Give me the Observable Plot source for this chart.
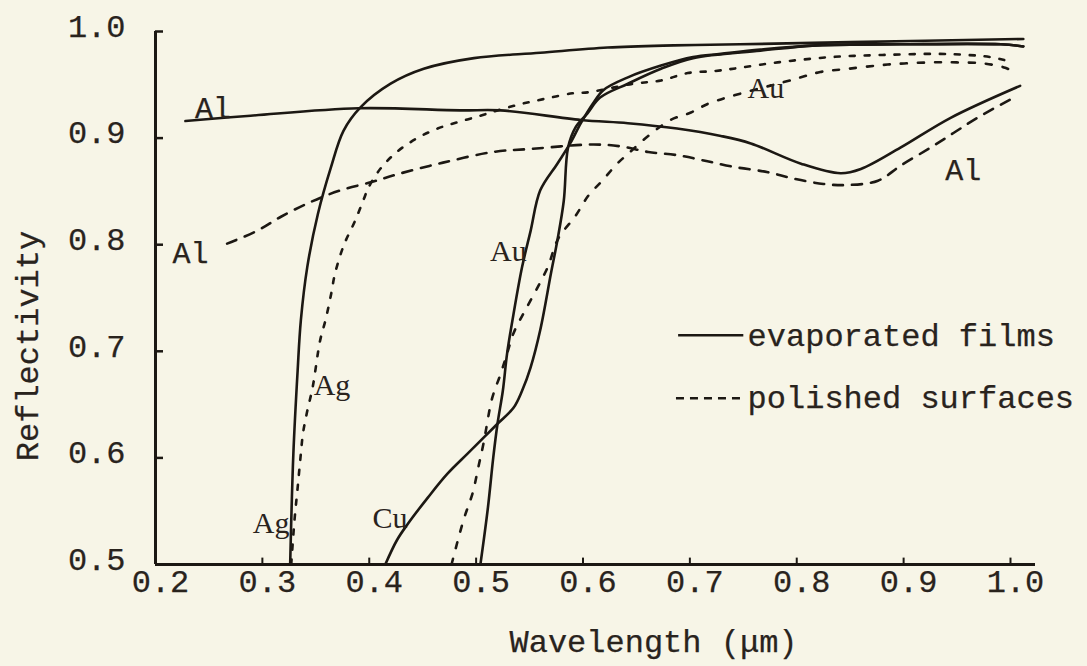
<!DOCTYPE html>
<html>
<head>
<meta charset="utf-8">
<script src="https://cdn.jsdelivr.net/npm/d3@7"></script>
<script src="https://cdn.jsdelivr.net/npm/@observablehq/plot@0.6"></script>
<style>
  html, body { margin: 0; padding: 0; background: #f7f5e7; }
  #chart svg { display: block; }
</style>
</head>
<body>
<div id="chart"></div>
<script>
// ---- tick values & labels ----
const xTicks = [0.2, 0.3, 0.4, 0.5, 0.6, 0.7, 0.8, 0.9, 1.0];
const xTickLabels = ["0.2", "0.3", "0.4", "0.5", "0.6", "0.7", "0.8", "0.9", "1.0"];
const yTicks = [0.5, 0.6, 0.7, 0.8, 0.9, 1.0];
const yTickLabels = ["0.5", "0.6", "0.7", "0.8", "0.9", "1.0"];

// ---- evaporated films (solid) : [wavelength µm, reflectivity] ----
const agFilm = [[0.326,0.5],[0.329,0.604],[0.333,0.682],[0.336,0.729],[0.342,0.779],[0.352,0.829],[0.364,0.872],[0.376,0.907],[0.392,0.929],[0.420,0.951],[0.451,0.965],[0.498,0.975],[0.560,0.980],[0.623,0.985],[0.685,0.987],[0.747,0.988],[0.850,0.990],[1.012,0.993]];
const auFilm = [[0.504,0.5],[0.511,0.553],[0.516,0.600],[0.520,0.632],[0.525,0.663],[0.529,0.698],[0.535,0.735],[0.543,0.779],[0.551,0.813],[0.560,0.851],[0.576,0.876],[0.588,0.895],[0.598,0.914],[0.609,0.932],[0.619,0.945],[0.642,0.957],[0.673,0.968],[0.703,0.976],[0.729,0.979],[0.766,0.983],[0.819,0.987],[0.897,0.988],[0.991,0.988],[1.012,0.986]];
const cuFilm = [[0.415,0.5],[0.426,0.523],[0.436,0.538],[0.455,0.563],[0.473,0.585],[0.492,0.604],[0.507,0.619],[0.520,0.632],[0.535,0.647],[0.543,0.663],[0.551,0.685],[0.560,0.720],[0.570,0.773],[0.576,0.804],[0.582,0.841],[0.586,0.891],[0.593,0.910],[0.604,0.923],[0.616,0.938],[0.642,0.951],[0.673,0.965],[0.703,0.975],[0.766,0.982],[0.819,0.987],[0.897,0.988],[0.991,0.988],[1.012,0.986]];
const alFilm = [[0.228,0.916],[0.289,0.921],[0.390,0.928],[0.485,0.926],[0.523,0.926],[0.598,0.917],[0.642,0.914],[0.688,0.909],[0.729,0.902],[0.757,0.895],[0.804,0.876],[0.841,0.867],[0.860,0.871],[0.897,0.891],[0.944,0.919],[1.009,0.949]];

// ---- polished surfaces (dashed) ----
const alPolished = [[0.267,0.801],[0.295,0.813],[0.317,0.826],[0.345,0.840],[0.373,0.851],[0.403,0.859],[0.426,0.866],[0.469,0.877],[0.516,0.887],[0.553,0.890],[0.610,0.894],[0.637,0.892],[0.661,0.887],[0.688,0.884],[0.713,0.879],[0.741,0.873],[0.773,0.868],[0.797,0.862],[0.825,0.857],[0.848,0.856],[0.876,0.860],[0.897,0.874],[0.925,0.891],[0.947,0.905],[0.969,0.919],[1.003,0.938]];
const agPolished = [[0.327,0.5],[0.330,0.541],[0.333,0.572],[0.336,0.604],[0.338,0.623],[0.342,0.644],[0.347,0.666],[0.354,0.710],[0.359,0.729],[0.364,0.752],[0.368,0.773],[0.376,0.799],[0.387,0.823],[0.395,0.843],[0.399,0.853],[0.411,0.872],[0.427,0.888],[0.445,0.900],[0.464,0.909],[0.483,0.915],[0.504,0.921],[0.520,0.926],[0.542,0.932],[0.565,0.937],[0.590,0.942],[0.605,0.943],[0.647,0.951],[0.673,0.954],[0.698,0.961],[0.724,0.963],[0.747,0.966],[0.782,0.971],[0.832,0.976],[0.880,0.978],[0.932,0.979],[0.960,0.978],[0.981,0.976],[1.003,0.971]];
const auPolished = [[0.477,0.5],[0.488,0.541],[0.497,0.568],[0.502,0.591],[0.507,0.614],[0.515,0.656],[0.523,0.679],[0.529,0.698],[0.535,0.717],[0.544,0.735],[0.556,0.757],[0.567,0.779],[0.577,0.806],[0.593,0.827],[0.605,0.846],[0.618,0.860],[0.632,0.876],[0.643,0.886],[0.661,0.902],[0.682,0.917],[0.701,0.924],[0.719,0.933],[0.797,0.955],[0.822,0.962],[0.848,0.965],[0.885,0.969],[0.925,0.971],[0.950,0.971],[0.975,0.970],[0.995,0.966],[1.003,0.962]];

// ---- curve labels ----
const monoLabels = [
  {text: "Al", x: 0.237, y: 0.928},
  {text: "Al", x: 0.216, y: 0.792},
  {text: "Al", x: 0.939, y: 0.870}
];
const serifLabels = [
  {text: "Ag", x: 0.291, y: 0.539},
  {text: "Ag", x: 0.348, y: 0.668},
  {text: "Cu", x: 0.403, y: 0.543},
  {text: "Au", x: 0.513, y: 0.794},
  {text: "Au", x: 0.754, y: 0.947}
];
const legendLabels = ["evaporated films", "polished surfaces"];
const xLabel = "Wavelength (μm)";
const yLabel = "Reflectivity";

// ---- build tables ----
const toRows = (pts, name) => pts.map(([x, y]) => ({name, x, y}));
const films = [...toRows(agFilm, "Ag"), ...toRows(auFilm, "Au"), ...toRows(cuFilm, "Cu"), ...toRows(alFilm, "Al")];

const ink = "#1c1813";
const textInk = "#29231d";
const mono = "'Liberation Mono', 'Courier New', monospace";
const serif = "'Liberation Serif', 'Times New Roman', serif";
const X0 = 0.2, X1 = 1.0234, Y0 = 0.5, Y1 = 1.0;
const txt = {fontFamily: mono, fontSize: 32, fill: textInk, stroke: textInk, strokeWidth: 0.25};

const legendRows = [
  {label: legendLabels[0], y: 0.715, dash: null},
  {label: legendLabels[1], y: 0.656, dash: "8,6"}
];

const chart = Plot.plot({
  width: 1087,
  height: 666,
  marginLeft: 155,
  marginRight: 52,
  marginTop: 31,
  marginBottom: 102,
  style: {background: "#f7f5e7", color: textInk},
  x: {domain: [X0, X1], axis: null},
  y: {domain: [Y0, Y1], axis: null},
  marks: [
    // axes lines
    Plot.ruleX([X0], {y1: Y0, y2: Y1, stroke: ink, strokeWidth: 3}),
    Plot.ruleY([Y0], {x1: X0, x2: X1, stroke: ink, strokeWidth: 3}),
    // inward ticks
    Plot.ruleY(yTicks.slice(1), {x1: X0, x2: X0 + 0.0075, stroke: ink, strokeWidth: 2.5}),
    Plot.ruleX(xTicks.slice(1), {y1: Y0, y2: Y0 + 0.006, stroke: ink, strokeWidth: 2}),
    // tick labels
    Plot.text(yTicks, {x: X0, y: d => d, text: (d, i) => yTickLabels[i], textAnchor: "end", dx: -30, dy: -5, ...txt}),
    Plot.text(xTicks, {x: d => d, y: Y0, text: (d, i) => xTickLabels[i], lineAnchor: "top", dx: 5, dy: 5, ...txt}),
    // axis titles
    Plot.text([yLabel], {frameAnchor: "left", rotate: -90, textAnchor: "middle", lineAnchor: "middle", dx: -128, dy: 48, ...txt}),
    Plot.text([xLabel], {frameAnchor: "bottom", textAnchor: "middle", lineAnchor: "middle", dx: 58, dy: 77, ...txt}),
    // evaporated films
    Plot.line(films, {x: "x", y: "y", z: "name", stroke: ink, strokeWidth: 2.6, curve: "catmull-rom"}),
    // polished surfaces
    Plot.line(alPolished, {x: d => d[0], y: d => d[1], stroke: ink, strokeWidth: 2.6, strokeDasharray: "10,9", curve: "catmull-rom"}),
    Plot.line(agPolished, {x: d => d[0], y: d => d[1], stroke: ink, strokeWidth: 2.6, strokeDasharray: "5,10", curve: "catmull-rom"}),
    Plot.line(auPolished, {x: d => d[0], y: d => d[1], stroke: ink, strokeWidth: 2.6, strokeDasharray: "6,11", curve: "catmull-rom"}),
    // curve labels
    Plot.text(monoLabels, {x: "x", y: "y", text: "text", textAnchor: "start", ...txt, fontSize: 30}),
    Plot.text(serifLabels, {x: "x", y: "y", text: "text", textAnchor: "start", fontFamily: serif, fontSize: 30,
      fill: textInk}),
    // legend
    Plot.link(legendRows.filter(d => !d.dash), {x1: 0.689, x2: 0.750, y1: "y", y2: "y", stroke: ink, strokeWidth: 2.4}),
    Plot.link(legendRows.filter(d => d.dash), {x1: 0.687, x2: 0.750, y1: "y", y2: "y", stroke: ink, strokeWidth: 2.4, strokeDasharray: "8,6"}),
    Plot.text(legendRows, {x: 0.754, y: "y", text: "label", textAnchor: "start", ...txt})
  ]
});
document.getElementById("chart").appendChild(chart);
</script>
</body>
</html>
